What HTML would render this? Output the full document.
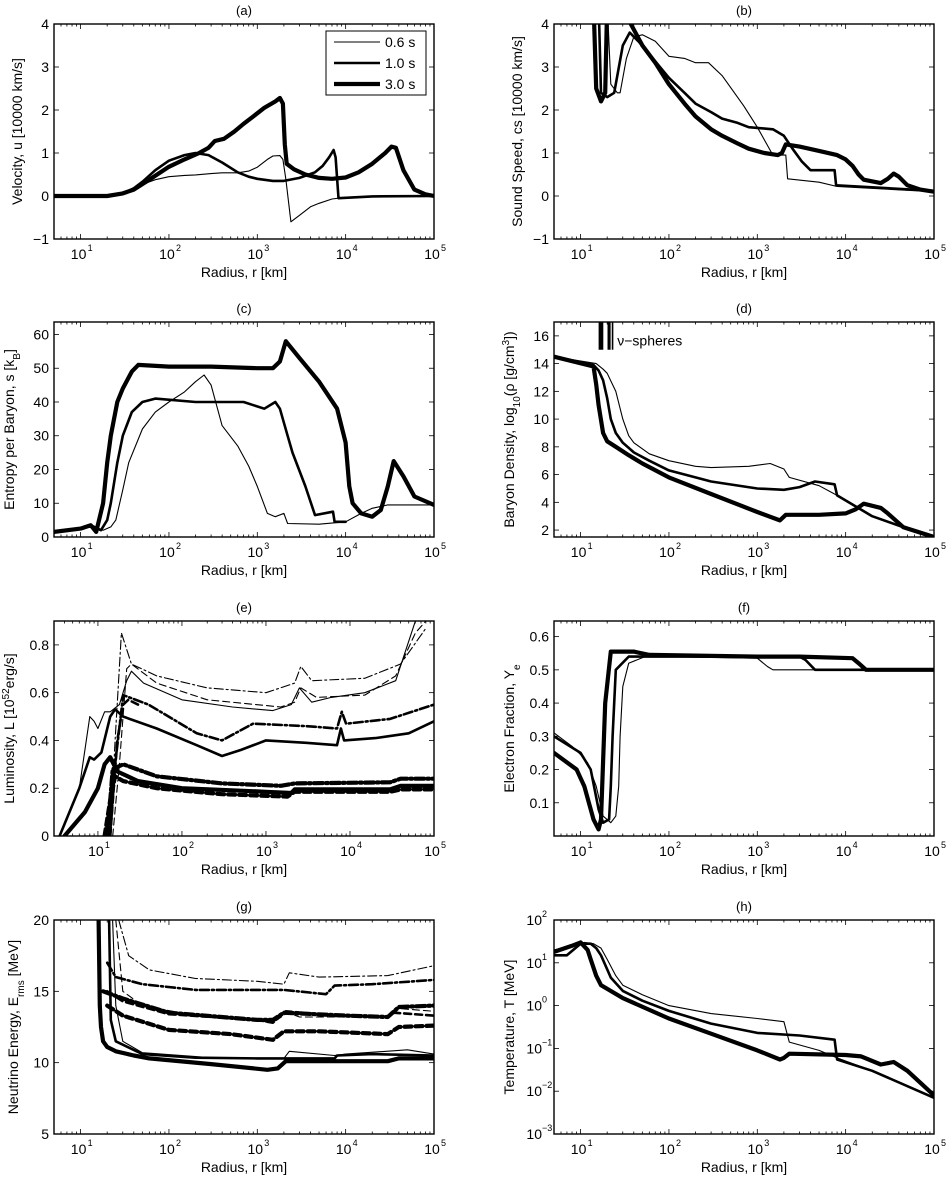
<!DOCTYPE html>
<html><head><meta charset="utf-8"><style>
html,body{margin:0;padding:0;background:#fff;}
svg{display:block;font-family:"Liberation Sans",Arial,sans-serif;}
</style></head><body>
<svg id="fig" width="946" height="1182" viewBox="0 0 946 1182" xmlns="http://www.w3.org/2000/svg"></svg>
<script>
// ---------- data ----------
const timeLabels = ["0.6 s","1.0 s","3.0 s"];
// (a) velocity
const velThin = [[5,0],[20,0],[25,0.02],[30,0.06],[40,0.17],[50,0.27],[70,0.38],[100,0.45],[150,0.48],[200,0.49],[300,0.52],[400,0.54],[600,0.54],[800,0.58],[1000,0.67],[1300,0.85],[1500,0.93],[1800,0.94],[1950,0.85],[2100,0.4],[2400,-0.6],[3000,-0.45],[4000,-0.25],[5000,-0.17],[7000,-0.07],[10000,-0.03],[20000,0],[100000,0]];
const velMed = [[5,0],[20,0],[30,0.06],[40,0.18],[50,0.33],[70,0.6],[100,0.82],[150,0.95],[200,1.0],[280,0.95],[400,0.78],[600,0.55],[800,0.45],[1000,0.4],[1500,0.35],[2000,0.35],[3000,0.42],[4500,0.55],[5500,0.7],[6500,0.9],[7300,1.07],[7700,0.9],[8300,-0.05],[20000,-0.01],[100000,0]];
const velThick = [[5,0],[20,0],[30,0.06],[40,0.15],[60,0.38],[100,0.68],[150,0.85],[220,1.0],[280,1.12],[330,1.28],[420,1.33],[550,1.5],[700,1.68],[900,1.85],[1200,2.05],[1600,2.2],[1800,2.28],[1950,2.15],[2050,1.2],[2150,0.75],[2600,0.62],[3500,0.5],[5000,0.42],[7000,0.4],[10000,0.43],[14000,0.55],[20000,0.75],[28000,1.0],[33000,1.15],[37000,1.12],[45000,0.6],[60000,0.15],[80000,0.04],[100000,0]];
// (b) sound speed
const csThin = [[20,4.5],[22,2.6],[26,2.4],[28,2.4],[33,3.2],[40,3.7],[50,3.75],[70,3.6],[100,3.25],[150,3.2],[200,3.1],[280,3.1],[400,2.8],[700,2.1],[1000,1.6],[1500,0.95],[2100,0.95],[2200,0.4],[5000,0.32],[8000,0.22],[100000,0.1]];
const csMed = [[16,4.5],[17,2.4],[20,2.3],[24,2.4],[30,3.5],[36,3.8],[45,3.6],[60,3.3],[100,2.75],[150,2.4],[200,2.15],[300,1.95],[400,1.8],[600,1.7],[800,1.6],[1500,1.55],[2000,1.4],[2500,1.1],[3200,0.8],[4000,0.6],[7500,0.6],[7800,0.25],[100000,0.12]];
const csThick = [[14,4.5],[15,2.5],[17,2.2],[19,2.4],[20,4.5],null,[37,4.0],[50,3.5],[70,3.1],[100,2.6],[150,2.15],[200,1.85],[300,1.55],[400,1.4],[600,1.22],[800,1.1],[1200,1.0],[1700,0.95],[1900,1.0],[2100,1.2],[3000,1.15],[5000,1.05],[8000,0.95],[10000,0.85],[12000,0.7],[14000,0.5],[16000,0.38],[25000,0.3],[30000,0.4],[35000,0.52],[40000,0.45],[50000,0.25],[70000,0.15],[100000,0.1]];
// (c) entropy
const sThin = [[5,1.5],[10,2.5],[13,3],[18,2],[22,3],[25,5],[30,14],[35,22],[50,32],[70,37],[100,40],[150,43],[200,46],[250,48],[300,45],[400,33],[600,27],[800,21],[1000,15],[1300,7],[1600,6],[2000,7],[2200,4],[5000,3.8],[10000,4.5],[15000,7],[20000,8.5],[30000,9.5],[100000,9.5]];
const sMed = [[5,1.5],[10,2.5],[13,3.5],[17,2],[20,5],[22,10],[26,22],[30,30],[38,37],[50,40],[70,41],[200,40],[700,40],[1200,38],[1600,40],[1800,38],[2200,30],[2500,25],[3500,15],[4500,6.5],[7200,7.5],[7500,4.5],[10000,4.5]];
const sThick = [[5,1.5],[10,2.5],[13,3.5],[15,1.5],[18,10],[20,22],[22,30],[26,40],[30,44],[38,49],[45,51],[100,50.5],[300,50.5],[1000,50],[1500,50],[1800,52],[1900,54],[2100,58],[3000,53],[5000,46],[8000,38],[10000,28],[11000,15],[12000,10],[15000,7],[20000,6],[25000,8],[30000,15],[35000,22.5],[45000,18],[60000,12],[100000,9.5]];
// (d) density
const dThin = [[5,14.5],[15,14],[18,13.6],[20,13.3],[25,12],[30,10],[35,8.8],[40,8.3],[60,7.5],[100,7],[200,6.6],[300,6.5],[800,6.6],[1400,6.8],[2000,6.4],[2300,5.8],[5000,5.2],[8000,4.5],[20000,3],[50000,2.1],[100000,1.5]];
const dMed = [[5,14.5],[14,13.9],[16,13.5],[18,12.8],[20,11.5],[22,10],[25,9],[30,8.3],[40,7.6],[60,7],[100,6.3],[200,5.8],[300,5.5],[1000,5],[2000,4.9],[3000,5.1],[4500,5.5],[7500,5.3],[8000,4.5],[20000,3],[50000,2.1],[100000,1.5]];
const dThick = [[5,14.5],[14,13.8],[15,12.5],[16,11],[18,9],[20,8.4],[25,8],[35,7.4],[50,6.8],[100,5.8],[300,4.6],[1000,3.3],[1800,2.7],[2100,3.1],[5000,3.1],[10000,3.2],[13000,3.5],[16000,3.9],[25000,3.6],[30000,3.2],[45000,2.2],[100000,1.5]];
const nuSphereR = [17,21,23];
// (e) luminosity
const lThinE = [[3.5,0],[6,0.2],[8,0.5],[9,0.48],[10,0.45],[12,0.52],[14,0.52],[18,0.55],[22,0.65],[25,0.69],[35,0.64],[100,0.57],[400,0.54],[1200,0.525],[2000,0.55],[2500,0.62],[3500,0.56],[6000,0.58],[15000,0.6],[35000,0.65],[60000,0.9]];
const lThinA = [[15,0],[18,0.3],[22,0.7],[25,0.72],[50,0.64],[200,0.57],[1500,0.54],[2200,0.56],[2600,0.62],[4000,0.58],[15000,0.59],[35000,0.67],[60000,0.85],[80000,0.9]];
const lThinX = [[14,0],[16,0.4],[19,0.85],[25,0.72],[50,0.67],[200,0.62],[1000,0.6],[2200,0.64],[2600,0.71],[3500,0.65],[15000,0.66],[40000,0.72],[80000,0.87]];
const lMedE = [[3.5,0],[6,0.2],[8,0.33],[9,0.32],[11,0.35],[14,0.5],[16,0.53],[20,0.5],[50,0.45],[150,0.38],[300,0.335],[500,0.36],[1000,0.4],[3000,0.39],[7000,0.38],[7800,0.45],[8500,0.4],[20000,0.41],[50000,0.43],[100000,0.48]];
const lMedA = [[14,0],[17,0.4],[20,0.55],[23,0.57],[30,0.55]];
const lMedX = [[14,0],[16,0.3],[20,0.59],[40,0.55],[150,0.43],[300,0.4],[700,0.47],[3000,0.46],[7000,0.45],[8000,0.52],[9000,0.47],[30000,0.49],[100000,0.55]];
const lThickE = [[4,0],[7,0.1],[10,0.2],[12,0.3],[14,0.33],[17,0.27],[30,0.23],[100,0.2],[1000,0.185],[2000,0.18],[2200,0.195],[30000,0.195],[40000,0.21],[100000,0.21]];
const lThickA = [[12,0],[14,0.15],[16,0.25],[20,0.23],[50,0.2],[300,0.175],[1800,0.165],[2200,0.185],[30000,0.185],[40000,0.195],[100000,0.195]];
const lThickX = [[13,0],[15,0.28],[20,0.3],[50,0.25],[300,0.22],[1500,0.21],[2200,0.22],[30000,0.225],[40000,0.24],[100000,0.24]];
// (f) electron fraction
const yeThin = [[5,0.31],[8,0.27],[10,0.245],[12,0.22],[15,0.15],[18,0.06],[22,0.04],[25,0.06],[27,0.15],[28,0.3],[30,0.45],[35,0.52],[60,0.545],[100,0.54],[1000,0.535],[1300,0.51],[1500,0.5],[100000,0.5]];
const yeMed = [[5,0.3],[10,0.25],[13,0.2],[16,0.08],[18,0.04],[21,0.05],[22,0.15],[23,0.3],[25,0.5],[35,0.54],[100,0.54],[3000,0.54],[3500,0.53],[4500,0.5],[100000,0.5]];
const yeThick = [[5,0.25],[9,0.2],[11,0.15],[14,0.05],[16,0.02],[17,0.05],[19,0.4],[22,0.555],[40,0.555],[60,0.545],[1000,0.54],[3000,0.54],[12000,0.535],[14000,0.52],[17000,0.5],[100000,0.5]];
// (g) rms energy
const eThinE = [[23,20],[25,14],[30,11.5],[50,10.7],[300,10.35],[2000,10.3],[2300,10.8],[7500,10.5],[10000,10.6],[50000,10.9],[100000,10.6]];
const eThinA = [[25,20],[30,15],[50,14],[200,13.3],[1500,12.8],[2200,13.5],[3000,13.2],[30000,13.2],[40000,13.8],[100000,13.6]];
const eThinX = [[27,20],[35,17.5],[60,16.5],[200,15.9],[1000,15.7],[2000,15.5],[2300,16.3],[5000,16.0],[30000,16.1],[100000,16.8]];
const eMedE = [[21,20],[22,13],[25,11.5],[50,10.6],[200,10.35],[1000,10.3],[7500,10.3],[8000,10.5],[20000,10.6],[100000,10.5]];
const eMedA = [[20,15],[30,14.3],[100,13.4],[1000,13],[1500,12.8],[2100,13.6],[5000,13.4],[30000,13.2],[35000,13.5],[100000,13.3]];
const eMedX = [[20,17],[25,16],[50,15.5],[200,15.1],[2000,15.1],[6000,14.8],[7500,15.4],[20000,15.5],[100000,15.8]];
const eThickE = [[16,20],[16.5,14],[17,12.5],[18,11.5],[20,11.1],[25,10.8],[40,10.5],[60,10.3],[300,9.9],[1300,9.5],[1700,9.6],[2100,10.1],[30000,10.1],[40000,10.3],[100000,10.3]];
const eThickA = [[20,14],[30,13.3],[100,12.3],[500,12.0],[1500,11.6],[2000,12.2],[5000,12.2],[30000,12.0],[40000,12.5],[100000,12.6]];
const eThickX = [[18,15],[30,14.5],[100,13.5],[1000,13.0],[1500,13],[2000,13.5],[10000,13.3],[30000,13.2],[40000,13.9],[100000,14.0]];
// (h) temperature
const tThin = [[5,20],[8,25],[11,30],[14,28],[17,22],[20,12],[25,5],[30,3],[50,1.8],[100,1.0],[300,0.65],[1000,0.5],[2000,0.42],[2300,0.14],[5000,0.09],[8000,0.06],[20000,0.03],[100000,0.007]];
const tMed = [[5,15],[7,15],[10,28],[13,28],[15,22],[17,15],[20,7],[22,4.5],[30,2.2],[50,1.3],[100,0.75],[300,0.38],[1000,0.23],[3000,0.2],[7500,0.16],[8000,0.055],[20000,0.03],[100000,0.007]];
const tThick = [[5,18],[8,25],[10,30],[12,20],[13,12],[15,5],[17,3],[30,1.5],[100,0.5],[300,0.22],[1000,0.09],[1800,0.055],[2000,0.06],[2300,0.075],[10000,0.07],[15000,0.065],[25000,0.042],[35000,0.048],[50000,0.03],[100000,0.008]];

// ---------- drawing ----------
const NS="http://www.w3.org/2000/svg";
const svg=document.getElementById('fig');
function mk(tag,attrs,parent){const e=document.createElementNS(NS,tag);for(const k in attrs)e.setAttribute(k,attrs[k]);(parent||svg).appendChild(e);return e;}
const W={thin:1.1,med:2.6,thick:4.2};
const DASH={solid:null,dash:"7,4",dot:"9,3,2,3"};

function panel(o){
  const g=mk('g',{});
  
  
  const L=o.x0,R=o.x1,T=o.y0,B=o.y1;
  const lx0=Math.log10(o.xmin),lx1=Math.log10(o.xmax);
  const X=r=>L+(Math.log10(r)-lx0)/(lx1-lx0)*(R-L);
  const Y=o.ylog?(v=>B-(Math.log10(v)-Math.log10(o.ymin))/(Math.log10(o.ymax)-Math.log10(o.ymin))*(B-T)):(v=>B-(v-o.ymin)/(o.ymax-o.ymin)*(B-T));
  const clipId='clip'+o.id;
  const cp=mk('clipPath',{id:clipId},g);mk('rect',{x:L,y:T,width:R-L,height:B-T},cp);
  const title=mk('text',{x:(L+R)/2,y:T-9,'text-anchor':'middle','font-size':13},g);
  title.textContent='('+o.id+')';
  
  
  const sg=mk('g',{'clip-path':'url(#'+clipId+')'},g);
  o.series.forEach(s=>{
    let d='',pen=false;
    s.data.forEach(p=>{if(!p){pen=false;return;}d+=(pen?'L':'M')+X(p[0]).toFixed(1)+','+Y(p[1]).toFixed(1);pen=true;});
    const a={d:d,fill:'none',stroke:'#000','stroke-width':W[s.w],'stroke-linejoin':'round','stroke-linecap':'round'};
    if(DASH[s.st])a['stroke-dasharray']=DASH[s.st];
    const path=mk('path',a,sg);
    
    
  });
  if(o.extra)o.extra(g,X,Y);
  const fr=mk('rect',{x:L,y:T,width:R-L,height:B-T,fill:'none',stroke:'#000','stroke-width':1.4},g);
  
  
  for(let e=Math.floor(lx0);e<=lx1;e++){
    for(let m=1;m<10;m++){
      const v=m*Math.pow(10,e);if(v<o.xmin-1e-9||v>o.xmax+1e-9)continue;
      const x=X(v),len=m===1?5:2.5;
      mk('line',{x1:x,y1:B,x2:x,y2:B-len,stroke:'#000','stroke-width':0.8},g);
      mk('line',{x1:x,y1:T,x2:x,y2:T+len,stroke:'#000','stroke-width':0.8},g);
      if(m===1&&e>=1){
        const t=mk('text',{x:x-2,y:B+20,'text-anchor':'middle','font-size':14},g);
        t.textContent='10';
        
        
        const sup=mk('text',{x:x+7,y:B+12,'font-size':9},g);sup.textContent=String(e);
      }
    }
  }
  const xl=mk('text',{x:(L+R)/2,y:B+38,'text-anchor':'middle','font-size':14},g);
  xl.textContent='Radius, r [km]';
  
  
  o.yticks.forEach((v,i)=>{
    const y=Y(v);
    mk('line',{x1:L,y1:y,x2:L+5,y2:y,stroke:'#000','stroke-width':0.8},g);
    mk('line',{x1:R,y1:y,x2:R-5,y2:y,stroke:'#000','stroke-width':0.8},g);
    if(o.ylog){
      const t=mk('text',{x:L-12,y:y+5,'text-anchor':'end','font-size':14},g);t.textContent='10';
      
      
      const s=mk('text',{x:L-12,y:y-3,'font-size':9},g);s.textContent=o.ylabels[i];
    }else{
      const t=mk('text',{x:L-5,y:y+5,'text-anchor':'end','font-size':14},g);t.textContent=o.ylabels[i];
      
      
    }
  });
  const yl=mk('text',{transform:'translate('+(L-o.ylOff)+','+((T+B)/2)+') rotate(-90)','text-anchor':'middle','font-size':14},g);
  yl.innerHTML=o.ytitle;
  
  
  return g;
}
const three=(a,b,c,n)=>[{data:a,w:'thin',st:'solid',name:n+'-0.6s'},{data:b,w:'med',st:'solid',name:n+'-1.0s'},{data:c,w:'thick',st:'solid',name:n+'-3.0s'}];
const LX=[54,434],RX=[554,934],rows=[[24,239],[322,537],[621,836],[920,1134]];

panel({id:'a',x0:LX[0],x1:LX[1],y0:rows[0][0],y1:rows[0][1],xmin:5,xmax:1e5,ymin:-1,ymax:4,
  yticks:[-1,0,1,2,3,4],ylabels:['\u22121','0','1','2','3','4'],ylOff:32,ytitle:'Velocity, u [10000 km/s]',
  series:three(velThin,velMed,velThick,'velocity'),
  extra:(g)=>{
    const lg=mk('g',{},g);
    
    
    mk('rect',{x:326,y:31,width:100,height:64,fill:'#fff',stroke:'#000','stroke-width':1},lg);
    ['thin','med','thick'].forEach((w,i)=>{
      const y=42+i*21;
      mk('line',{x1:334,y1:y,x2:380,y2:y,stroke:'#000','stroke-width':W[w]},lg);
      const t=mk('text',{x:385,y:y+5,'font-size':14},lg);t.textContent=timeLabels[i];
      
      
    });
  }});
panel({id:'b',x0:RX[0],x1:RX[1],y0:rows[0][0],y1:rows[0][1],xmin:5,xmax:1e5,ymin:-1,ymax:4,
  yticks:[-1,0,1,2,3,4],ylabels:['\u22121','0','1','2','3','4'],ylOff:32,ytitle:'Sound Speed, cs [10000 km/s]',
  series:three(csThin,csMed,csThick,'sound-speed')});
panel({id:'c',x0:LX[0],x1:LX[1],y0:rows[1][0],y1:rows[1][1],xmin:5,xmax:1e5,ymin:0,ymax:63.7,
  yticks:[0,10,20,30,40,50,60],ylabels:['0','10','20','30','40','50','60'],ylOff:40,
  ytitle:'Entropy per Baryon, s [k<tspan baseline-shift="sub" font-size="10">B</tspan>]',
  series:three(sThin,sMed,sThick,'entropy')});
panel({id:'d',x0:RX[0],x1:RX[1],y0:rows[1][0],y1:rows[1][1],xmin:5,xmax:1e5,ymin:1.5,ymax:17,
  yticks:[2,4,6,8,10,12,14,16],ylabels:['2','4','6','8','10','12','14','16'],ylOff:40,
  ytitle:'Baryon Density, log<tspan baseline-shift="sub" font-size="10">10</tspan>(\u03c1 [g/cm<tspan baseline-shift="super" font-size="10">3</tspan>])',
  series:three(dThin,dMed,dThick,'density'),
  extra:(g,X,Y)=>{
    ['thick','med','thin'].forEach((w,i)=>{
      const l=mk('line',{x1:X(nuSphereR[i]),y1:Y(17),x2:X(nuSphereR[i]),y2:Y(15),stroke:'#000','stroke-width':W[w]+0.5},g);
      
      
    });
    const t=mk('text',{x:X(26),y:Y(15.3),'font-size':14},g);t.textContent='\u03bd\u2212spheres';
    
    
  }});
panel({id:'e',x0:LX[0],x1:LX[1],y0:rows[2][0],y1:rows[2][1],xmin:3,xmax:1e5,ymin:0,ymax:0.9,
  yticks:[0,0.2,0.4,0.6,0.8],ylabels:['0','0.2','0.4','0.6','0.8'],ylOff:40,
  ytitle:'Luminosity, L [10<tspan baseline-shift="super" font-size="10">52</tspan>erg/s]',
  series:[{data:lThinE,w:'thin',st:'solid',name:'lum-nue-0.6s'},{data:lThinA,w:'thin',st:'dash',name:'lum-anue-0.6s'},{data:lThinX,w:'thin',st:'dot',name:'lum-nux-0.6s'},
    {data:lMedE,w:'med',st:'solid',name:'lum-nue-1.0s'},{data:lMedA,w:'med',st:'dash',name:'lum-anue-1.0s'},{data:lMedX,w:'med',st:'dot',name:'lum-nux-1.0s'},
    {data:lThickE,w:'thick',st:'solid',name:'lum-nue-3.0s'},{data:lThickA,w:'thick',st:'dash',name:'lum-anue-3.0s'},{data:lThickX,w:'thick',st:'dot',name:'lum-nux-3.0s'}]});
panel({id:'f',x0:RX[0],x1:RX[1],y0:rows[2][0],y1:rows[2][1],xmin:5,xmax:1e5,ymin:0,ymax:0.647,
  yticks:[0.1,0.2,0.3,0.4,0.5,0.6],ylabels:['0.1','0.2','0.3','0.4','0.5','0.6'],ylOff:40,
  ytitle:'Electron Fraction, Y<tspan baseline-shift="sub" font-size="10">e</tspan>',
  series:three(yeThin,yeMed,yeThick,'electron-fraction')});
panel({id:'g',x0:LX[0],x1:LX[1],y0:rows[3][0],y1:rows[3][1],xmin:5,xmax:1e5,ymin:5,ymax:20,
  yticks:[5,10,15,20],ylabels:['5','10','15','20'],ylOff:36,
  ytitle:'Neutrino Energy, E<tspan baseline-shift="sub" font-size="10">rms</tspan> [MeV]',
  series:[{data:eThinE,w:'thin',st:'solid',name:'erms-nue-0.6s'},{data:eThinA,w:'thin',st:'dash',name:'erms-anue-0.6s'},{data:eThinX,w:'thin',st:'dot',name:'erms-nux-0.6s'},
    {data:eMedE,w:'med',st:'solid',name:'erms-nue-1.0s'},{data:eMedA,w:'med',st:'dash',name:'erms-anue-1.0s'},{data:eMedX,w:'med',st:'dot',name:'erms-nux-1.0s'},
    {data:eThickE,w:'thick',st:'solid',name:'erms-nue-3.0s'},{data:eThickA,w:'thick',st:'dash',name:'erms-anue-3.0s'},{data:eThickX,w:'thick',st:'dot',name:'erms-nux-3.0s'}]});
panel({id:'h',x0:RX[0],x1:RX[1],y0:rows[3][0],y1:rows[3][1],xmin:5,xmax:1e5,ylog:true,ymin:1e-3,ymax:1e2,
  yticks:[1e-3,1e-2,1e-1,1,10,100],ylabels:['\u22123','\u22122','\u22121','0','1','2'],ylOff:40,
  ytitle:'Temperature, T [MeV]',
  series:three(tThin,tMed,tThick,'temperature')});
</script>
</body></html>
